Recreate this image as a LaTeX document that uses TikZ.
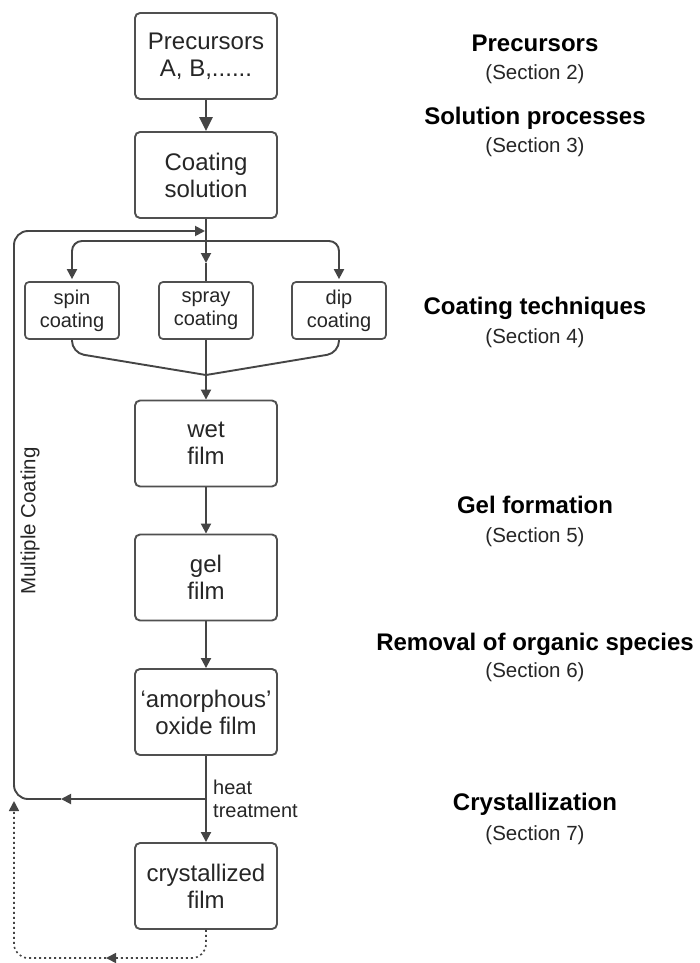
\documentclass[tikz,border=0pt]{standalone}
\usepackage{fontspec}
\setmainfont{Liberation Sans}
\usetikzlibrary{arrows.meta}
\definecolor{ln}{HTML}{454545}
\definecolor{bx}{HTML}{505050}
\begin{document}
\begin{tikzpicture}[x=1pt,y=-1pt,
  bigbox/.style={draw=bx, line width=1.9pt, rounded corners=5pt, minimum width=142pt, minimum height=86pt, inner sep=0pt, align=center, text=black!85, font=\fontsize{24}{27}\selectfont},
  smallbox/.style={draw=bx, line width=1.7pt, rounded corners=4pt, minimum width=94pt, minimum height=57pt, inner sep=0pt, align=center, text=black!85, font=\fontsize{20}{23}\selectfont},
  conn/.style={draw=ln, line width=1.9pt},
  tip/.style={-{Triangle[length=10pt,width=10pt]}},
  dotline/.style={draw=ln, line width=1.6pt, dash pattern=on 2pt off 3pt},
  head/.style={font=\bfseries\fontsize{24}{27}\selectfont, anchor=base, inner sep=0pt},
  sect/.style={font=\fontsize{20.5}{24}\selectfont, anchor=base, inner sep=0pt, text=black!85},
]
\useasboundingbox[fill=white] (0,0) rectangle (699,963);

% boxes
\node[bigbox] (pre) at (206,56) {Precursors\\A, B,......};
\node[bigbox] (cs) at (206,175) {Coating\\solution};
\node[smallbox] (spin) at (72,310.5) {spin\\coating};
\node[smallbox] (spray) at (206,310.5) {spray\\coating};
\node[smallbox] (dip) at (339,310.5) {dip\\coating};
\node[bigbox] (wet) at (206,443.5) {wet\\film};
\node[bigbox] (gel) at (206,577.5) {gel\\film};
\node[bigbox] (amo) at (206,712) {‘amorphous’\\oxide film};
\node[bigbox] (cry) at (206,886) {crystallized\\film};

% coordinates
\coordinate (top) at (205,231);
\coordinate (br) at (206,241);
\coordinate (cm) at (206,263);
\coordinate (mg) at (206,375);
\coordinate (ht) at (206,799);
\coordinate (fbm) at (61,799);
\coordinate (L2) at (14,799);
\coordinate (L1) at (14,231);
\coordinate (d1) at (206,958);
\coordinate (dm) at (106,958);
\coordinate (d2) at (14,958);
\coordinate (d3) at (14,801);

% connectors
\draw[conn, line width=2.7pt, -{Triangle[length=14pt,width=13pt]}] (pre.south) -- (cs.north);
\draw[conn, tip] (cs.south) -- (cm);
\draw[conn] (cm) -- (spray.north);
\draw[conn, tip, rounded corners=10pt, shorten >=2pt] (br) -| (spin.north);
\draw[conn, tip, rounded corners=10pt, shorten >=2pt] (br) -| (dip.north);
\draw[conn, rounded corners=12pt] (spin.south) -- ++(0,13) -- (mg);
\draw[conn, rounded corners=12pt] (dip.south) -- ++(0,13) -- (mg);
\draw[conn] (spray.south) -- (mg);
\draw[conn, tip] (mg) -- (wet.north);
\draw[conn, tip] (wet.south) -- (gel.north);
\draw[conn, tip] (gel.south) -- (amo.north);
\draw[conn, tip] (amo.south) -- (cry.north);
\draw[conn, tip] (ht) -- (fbm);
\draw[conn, tip, rounded corners=14pt] (fbm) -- (L2) -- (L1) -- (top);
\draw[dotline, tip, rounded corners=14pt] (cry.south) -- (d1) -- (dm);
\draw[dotline, tip, rounded corners=14pt] (dm) -- (d2) -- (d3);

% labels
\node[anchor=west, align=left, inner sep=0pt, text=black!85, font=\fontsize{20}{23}\selectfont] (heat) at (213,798.5) {heat\\treatment};
\node[rotate=90, inner sep=0pt, text=black!85, font=\fontsize{20.5}{24}\selectfont] (mc) at (30,521) {Multiple Coating};

% right column
\node[head] (h1) at (535,52) {Precursors};
\node[sect] (s1) at (535,79.5) {(Section 2)};
\node[head] (h2) at (535,124.5) {Solution processes};
\node[sect] (s2) at (535,152.5) {(Section 3)};
\node[head] (h3) at (535,314.5) {Coating techniques};
\node[sect] (s3) at (535,343.5) {(Section 4)};
\node[head] (h4) at (535,513.5) {Gel formation};
\node[sect] (s4) at (535,542.5) {(Section 5)};
\node[head] (h5) at (535,650.5) {Removal of organic species};
\node[sect] (s5) at (535,677.5) {(Section 6)};
\node[head] (h6) at (535,810.5) {Crystallization};
\node[sect] (s6) at (535,840.5) {(Section 7)};
\end{tikzpicture}
\end{document}
